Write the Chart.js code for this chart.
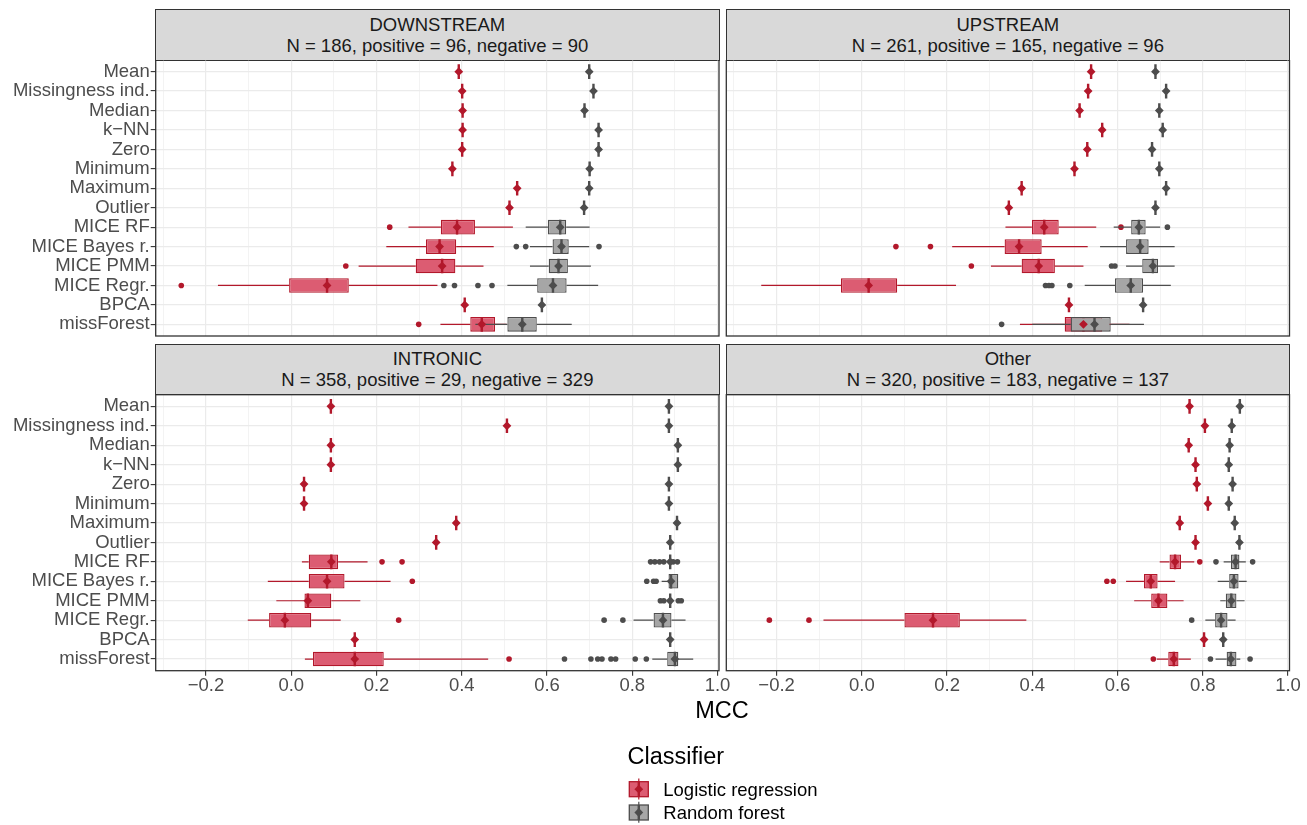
<!DOCTYPE html>
<html><head><meta charset="utf-8">
<script src="https://cdn.jsdelivr.net/npm/chart.js@4/dist/chart.umd.min.js"></script>
<style>
html,body{margin:0;padding:0;background:#fff;}
#root{position:relative;width:1307px;height:825px;overflow:hidden;font-family:"Liberation Sans",Arial,Helvetica,sans-serif;}
canvas{position:absolute;}
.strip{position:absolute;box-sizing:border-box;background:#D9D9D9;border:1px solid #333;display:flex;flex-direction:column;justify-content:center;align-items:center;color:#1A1A1A;font-size:18.5px;line-height:21px;white-space:nowrap;}
.txt{position:absolute;white-space:nowrap;}
</style></head>
<body>
<div id="root">
  <div class="strip" style="left:155.1px;top:8.9px;width:564.5px;height:51.8px"><div id="t0"></div><div id="s0"></div></div>
  <div class="strip" style="left:725.7px;top:8.9px;width:564.4px;height:51.8px"><div id="t1"></div><div id="s1"></div></div>
  <div class="strip" style="left:155.1px;top:343.7px;width:564.5px;height:51.6px"><div id="t2"></div><div id="s2"></div></div>
  <div class="strip" style="left:725.7px;top:343.7px;width:564.4px;height:51.6px"><div id="t3"></div><div id="s3"></div></div>
  <canvas id="c0" width="720" height="277" style="left:0;top:60px;width:720px;height:277px"></canvas>
  <canvas id="c1" width="587" height="277" style="left:720px;top:60px;width:587px;height:277px"></canvas>
  <canvas id="c2" width="745" height="310" style="left:0;top:394px;width:745px;height:310px"></canvas>
  <canvas id="c3" width="587" height="310" style="left:720px;top:394px;width:587px;height:310px"></canvas>
  <div class="txt" id="xtitle" style="left:622px;top:698px;width:200px;text-align:center;font-size:23.5px;line-height:24px;color:#000"></div>
  <div class="txt" id="ltitle" style="left:627.5px;top:744px;font-size:23.5px;line-height:24px;color:#000"></div>
  <svg style="position:absolute;left:620px;top:770px" width="40" height="60">
    <line x1="18.8" y1="8.5" x2="18.8" y2="29.5" stroke="rgb(178,24,43)" stroke-width="1.2"/>
    <rect x="9.3" y="11.7" width="19" height="15" fill="rgb(220,92,114)" stroke="rgb(178,24,43)" stroke-width="1.3"/>
    <line x1="18.8" y1="11.7" x2="18.8" y2="26.7" stroke="rgb(178,24,43)" stroke-width="2.4"/>
    <polygon points="14.4,19.2 18.8,14.8 23.2,19.2 18.8,23.6" fill="rgb(178,24,43)"/>
    <line x1="18.8" y1="31.8" x2="18.8" y2="52.8" stroke="rgb(77,77,77)" stroke-width="1.2"/>
    <rect x="9.3" y="35" width="19" height="15" fill="rgb(166,166,166)" stroke="rgb(77,77,77)" stroke-width="1.3"/>
    <line x1="18.8" y1="35" x2="18.8" y2="50" stroke="rgb(77,77,77)" stroke-width="2.4"/>
    <polygon points="14.4,42.5 18.8,38.1 23.2,42.5 18.8,46.9" fill="rgb(77,77,77)"/>
  </svg>
  <div class="txt" id="l0" style="left:663.3px;top:779px;font-size:18.5px;line-height:22px;color:#000"></div>
  <div class="txt" id="l1" style="left:663.3px;top:802px;font-size:18.5px;line-height:22px;color:#000"></div>
</div>
<script>
// ---------- data ----------
const methods = ["Mean","Missingness ind.","Median","k\u2212NN","Zero","Minimum","Maximum","Outlier","MICE RF","MICE Bayes r.","MICE PMM","MICE Regr.","BPCA","missForest"];
const facetTitles = ["DOWNSTREAM","UPSTREAM","INTRONIC","Other"];
const facetCounts = ["N = 186, positive = 96, negative = 90","N = 261, positive = 165, negative = 96","N = 358, positive = 29, negative = 329","N = 320, positive = 183, negative = 137"];
const classifiers = ["Logistic regression","Random forest"];
const axisTitle = "MCC";
const legendTitle = "Classifier";
const xMajorTicks = [-0.2,0.0,0.2,0.4,0.6,0.8,1.0];
const xMajorLabels = ["\u22120.2","0.0","0.2","0.4","0.6","0.8","1.0"];
const xMinorTicks = [-0.3,-0.1,0.1,0.3,0.5,0.7,0.9];

// each row: single value, or [lower whisker, Q1, median, Q3, upper whisker]
const downLR = [0.393,0.401,0.402,0.402,0.401,0.378,0.530,0.512,
  [0.275,0.351,0.389,0.431,0.520],[0.223,0.316,0.348,0.387,0.475],[0.158,0.292,0.354,0.385,0.451],
  [-0.172,-0.005,0.084,0.135,0.343],0.407,[0.350,0.420,0.447,0.478,0.505]];
const downLROut = [[],[],[],[],[],[],[],[],[0.231],[],[0.128],[-0.258],[],[0.299]];
const downRF = [0.699,0.709,0.688,0.721,0.721,0.700,0.699,0.687,
  [0.550,0.602,0.631,0.645,0.700],[0.560,0.613,0.634,0.651,0.699],[0.560,0.604,0.627,0.649,0.703],
  [0.507,0.577,0.614,0.646,0.720],0.588,[0.432,0.507,0.542,0.576,0.658]];
const downRFOut = [[],[],[],[],[],[],[],[],[],[0.528,0.550,0.722],[],[0.358,0.383,0.438,0.471],[],[]];

const upLR = [0.538,0.531,0.511,0.564,0.529,0.499,0.375,0.345,
  [0.337,0.399,0.428,0.462,0.550],[0.212,0.335,0.369,0.422,0.530],[0.303,0.375,0.415,0.453,0.520],
  [-0.236,-0.049,0.016,0.083,0.221],0.486,[0.371,0.476,0.520,0.564,0.628]];
const upLROut = [[],[],[],[],[],[],[],[],[0.608],[0.080,0.161],[0.257],[],[],[]];
const upRF = [0.689,0.714,0.698,0.706,0.681,0.698,0.714,0.689,
  [0.591,0.632,0.650,0.666,0.700],[0.559,0.620,0.653,0.673,0.734],[0.620,0.658,0.683,0.695,0.734],
  [0.523,0.594,0.631,0.660,0.725],0.660,[0.400,0.490,0.546,0.584,0.662]];
const upRFOut = [[],[],[],[],[],[],[],[],[0.717],[],[0.586,0.594],[0.431,0.439,0.446,0.488],[],[0.328]];

const intrLR = [0.093,0.506,0.093,0.093,0.030,0.030,0.387,0.340,
  [0.025,0.041,0.094,0.110,0.179],[-0.055,0.041,0.084,0.125,0.233],[-0.035,0.031,0.039,0.094,0.162],
  [-0.102,-0.052,-0.015,0.047,0.116],0.149,[0.032,0.051,0.149,0.217,0.462]];
const intrLROut = [[],[],[],[],[],[],[],[],[0.213,0.260],[0.284],[],[0.252],[],[0.511]];
const intrRF = [0.886,0.886,0.907,0.907,0.886,0.886,0.905,0.889,
  0.889,[0.869,0.885,0.891,0.908,0.908],0.889,
  [0.803,0.850,0.872,0.892,0.925],0.889,[0.847,0.882,0.900,0.908,0.943]];
const intrRFOut = [[],[],[],[],[],[],[],[],[0.843,0.853,0.864,0.874,0.896,0.906],[0.834,0.850,0.856],[0.866,0.874,0.908,0.915],[0.734,0.778],[],[0.641,0.703,0.719,0.729,0.750,0.761,0.807,0.833]];

const otherLR = [0.769,0.805,0.767,0.783,0.786,0.812,0.746,0.783,
  [0.699,0.722,0.735,0.749,0.780],[0.620,0.662,0.678,0.694,0.735],[0.639,0.679,0.696,0.717,0.755],
  [-0.090,0.100,0.167,0.230,0.386],0.803,[0.692,0.719,0.732,0.743,0.772]];
const otherLROut = [[],[],[],[],[],[],[],[],[0.793],[0.575,0.590],[],[-0.217,-0.124],[],[0.684]];
const otherRF = [0.887,0.868,0.863,0.861,0.870,0.861,0.875,0.886,
  [0.849,0.866,0.877,0.886,0.901],[0.835,0.862,0.873,0.884,0.903],[0.841,0.854,0.867,0.879,0.898],
  [0.806,0.829,0.843,0.858,0.877],0.848,[0.830,0.856,0.866,0.879,0.888]];
const otherRFOut = [[],[],[],[],[],[],[],[],[0.831,0.917],[],[],[0.774],[],[0.818,0.911]];

// ---------- styles ----------
const COL = {
  lr:{fill:'rgb(220,92,114)', stroke:'rgb(178,24,43)'},
  rf:{fill:'rgb(166,166,166)', stroke:'rgb(77,77,77)'}
};
Chart.defaults.font.family = '"Liberation Sans", Arial, Helvetica, sans-serif';

// text
facetTitles.forEach((t,i)=>{document.getElementById('t'+i).textContent=t;document.getElementById('s'+i).textContent=facetCounts[i];});
document.getElementById('xtitle').textContent = axisTitle;
document.getElementById('ltitle').textContent = legendTitle;
document.getElementById('l0').textContent = classifiers[0];
document.getElementById('l1').textContent = classifiers[1];

function stats(v){ return Array.isArray(v) ? v : [v,v,v,v,v]; }
function classifierSets(rows, outs, col, ord){
  const whisk=[], box=[], med=[], out=[];
  rows.forEach((r,i)=>{
    const s = stats(r);
    if (s[1] > s[0]) whisk.push({x:[s[0],s[1]], y:i});
    if (s[4] > s[3]) whisk.push({x:[s[3],s[4]], y:i});
    if (s[3] > s[1]) box.push({x:[s[1],s[3]], y:i});
    med.push({x:s[2], y:i});
    (outs[i]||[]).forEach(o=>out.push({x:o, y:i}));
  });
  return [
    {type:'bar', data:whisk, indexAxis:'y', grouped:false, barPercentage:1, categoryPercentage:1, maxBarThickness:1.2,
     backgroundColor:col.stroke, borderWidth:0, inflateAmount:0, order:ord},
    {type:'bar', data:box, indexAxis:'y', grouped:false, barPercentage:0.75, categoryPercentage:1,
     backgroundColor:col.fill, borderColor:col.stroke, borderWidth:1.3, borderSkipped:false, inflateAmount:0, order:ord-1},
    {type:'scatter', data:med, pointStyle:'line', pointRotation:90, pointRadius:7.3, pointBorderWidth:2.4,
     pointBorderColor:col.stroke, pointBackgroundColor:col.stroke, order:ord-2},
    {type:'scatter', data:out, pointStyle:'circle', pointRadius:2.8, pointBorderWidth:0,
     pointBackgroundColor:col.stroke, order:ord-3}
  ];
}
function diamondSet(rows, col, ord){
  return {type:'scatter', data:rows.map((r,i)=>({x:stats(r)[2], y:i})), pointStyle:'rectRot', pointRadius:4.4,
    pointBorderWidth:0, pointBackgroundColor:col.stroke, order:ord};
}
const allX = xMajorTicks.concat(xMinorTicks).sort((a,b)=>a-b);
function majorIndex(v){ return xMajorTicks.findIndex(m=>Math.abs(m-v)<1e-9); }

const frame = {id:'frame', afterDraw(c){
  const a=c.chartArea, g=c.ctx; g.save(); g.strokeStyle='#333333'; g.lineWidth=1.3;
  g.strokeRect(a.left,a.top,a.right-a.left,a.bottom-a.top); g.restore();
}};

function makePanel(id, lr, lrOut, rf, rfOut, showY, showX, pad, yW, xH){
  const datasets = [...classifierSets(lr, lrOut, COL.lr, 10), ...classifierSets(rf, rfOut, COL.rf, 6),
    diamondSet(lr, COL.lr, 2), diamondSet(rf, COL.rf, 1)];
  new Chart(document.getElementById(id), {
    type:'bar',
    data:{datasets},
    options:{
      indexAxis:'y', responsive:false, maintainAspectRatio:false, animation:false, events:[], devicePixelRatio:1,
      layout:{autoPadding:false, padding:pad},
      plugins:{legend:{display:false}, tooltip:{enabled:false}},
      scales:{
        x:{type:'linear', min:-0.318, max:1.0035, offset:false, beginAtZero:false, border:{display:false},
          grid:{offset:false, color:'#EBEBEB', lineWidth:c=>(c.tick && majorIndex(c.tick.value)>=0)?1.2:0.6,
            drawTicks:showX, tickLength:5, tickWidth:1.1,
            tickColor:c=>(c.tick && majorIndex(c.tick.value)>=0)?'#333333':'rgba(0,0,0,0)'},
          ticks:{display:showX, autoSkip:false, maxRotation:0, minRotation:0, padding:0.5, color:'#4D4D4D',
            font:{size:18.5, lineHeight:1}, callback:(v)=>{const k=majorIndex(v); return k>=0?xMajorLabels[k]:'';}},
          afterBuildTicks:s=>{s.ticks = allX.map(v=>({value:v}));},
          afterFit:s=>{s.height = xH; s.paddingLeft=0; s.paddingRight=0; s.paddingTop=0; s.paddingBottom=0;}
        },
        y:{type:'linear', reverse:true, min:-0.6, max:13.6, offset:false, border:{display:false},
          grid:{offset:false, color:'#EBEBEB', lineWidth:1.2, drawTicks:showY, tickLength:5, tickWidth:1.1, tickColor:'#333333'},
          ticks:{display:showY, autoSkip:false, padding:1, color:'#4D4D4D', font:{size:18.5},
            callback:(v)=>methods[Math.round(v)]},
          afterBuildTicks:s=>{s.ticks = methods.map((m,i)=>({value:i}));},
          afterFit:s=>{s.width = yW; s.paddingLeft=0; s.paddingRight=0; s.paddingTop=0; s.paddingBottom=0;}
        }
      }
    },
    plugins:[frame]
  });
}
makePanel('c0', downLR, downLROut, downRF, downRFOut, true, false, {left:0,top:0,right:1,bottom:1}, 155.7, 0);
makePanel('c1', upLR, upLROut, upRF, upRFOut, false, false, {left:6.3,top:0,right:17.5,bottom:1}, 0, 0);
makePanel('c2', intrLR, intrLROut, intrRF, intrRFOut, true, true, {left:0,top:0.7,right:26,bottom:0}, 155.7, 33.3);
makePanel('c3', otherLR, otherLROut, otherRF, otherRFOut, false, true, {left:6.3,top:0.7,right:17.5,bottom:0}, 0, 33.3);
</script>
</body></html>
